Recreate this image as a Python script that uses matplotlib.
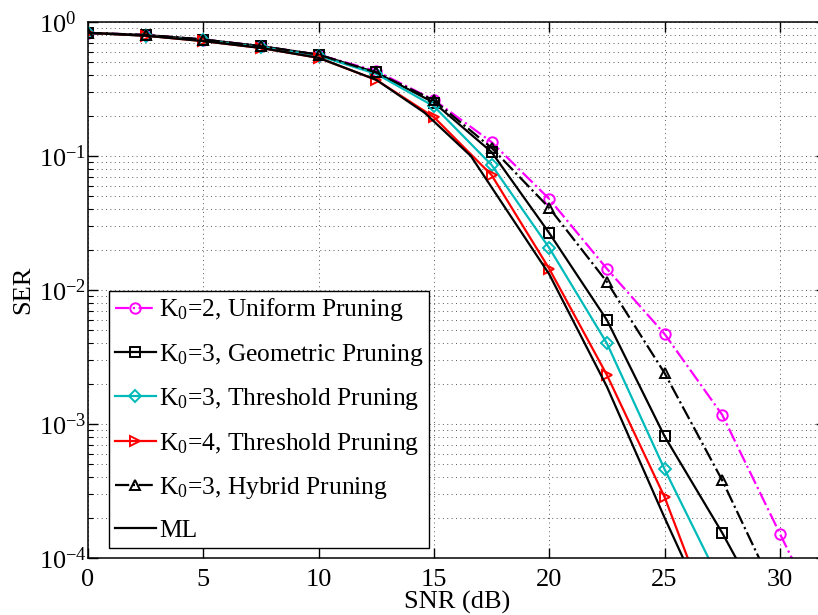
import numpy as np
import matplotlib
matplotlib.use("Agg")
import matplotlib.pyplot as plt
from matplotlib.ticker import LogLocator, LogFormatterSciNotation, NullFormatter, FixedLocator

plt.rcParams.update({
    "font.family": ["Liberation Serif", "DejaVu Serif"],
    "mathtext.fontset": "custom",
    "mathtext.rm": "Liberation Serif",
    "mathtext.it": "Liberation Serif:italic",
    "mathtext.default": "regular",
    "font.size": 19,
})

# SNR grid (dB) shared by the pruning schemes
snr = [0, 2.5, 5, 7.5, 10, 12.5, 15, 17.5, 20, 22.5, 25, 27.5, 30, 32.5]

ser_uniform_k2 = [0.83, 0.80, 0.74, 0.66, 0.57, 0.43, 0.262, 0.127, 0.0478,
                  0.0144, 0.0047, 0.00117, 1.52e-4, 2.0e-5]
ser_geometric_k3 = [0.83, 0.80, 0.74, 0.66, 0.57, 0.42, 0.25, 0.107, 0.0266,
                    0.00597, 8.1e-4, 1.54e-4, 2.5e-5]
ser_threshold_k3 = [0.83, 0.79, 0.73, 0.65, 0.56, 0.41, 0.235, 0.0857, 0.0206,
                    0.0040, 4.6e-4, 6.2e-5]
ser_threshold_k4 = [0.83, 0.79, 0.72, 0.64, 0.54, 0.37, 0.195, 0.072, 0.0144,
                    0.00232, 2.85e-4, 2.1e-5]
ser_hybrid_k3 = [0.83, 0.80, 0.74, 0.66, 0.57, 0.42, 0.26, 0.115, 0.041,
                 0.0115, 0.0024, 3.8e-4, 4.7e-5]

# Maximum-likelihood reference curve
snr_ml = [0, 2.5, 5, 7.5, 10, 12.5, 14.6, 16.6, 20, 22.5, 25, 27.5]
ser_ml = [0.83, 0.79, 0.72, 0.64, 0.54, 0.37, 0.21, 0.10, 0.0131, 0.0019,
          2.0e-4, 2.3e-5]

labels = [
    "K$_0$=2, Uniform Pruning",
    "K$_0$=3, Geometric Pruning",
    "K$_0$=3, Threshold Pruning",
    "K$_0$=4, Threshold Pruning",
    "K$_0$=3, Hybrid Pruning",
    "ML",
]

W, H = 818, 615
fig = plt.figure(figsize=(W / 100, H / 100), dpi=100)
ax = fig.add_axes([88 / W, (H - 558) / H, (826 - 88) / W, (558 - 22) / H])

lw = 1.6
ms = 7.5
mew = 1.4
cyan = "#00BABA"

def series(y):
    return snr[:len(y)], y

ax.plot(*series(ser_uniform_k2), color="#FF00FF", ls="-.", lw=lw, marker="o",
        ms=ms, mfc="none", mew=mew, label=labels[0])
ax.plot(*series(ser_geometric_k3), color="black", ls="-", lw=lw, marker="s",
        ms=ms - 0.5, mfc="none", mew=mew, label=labels[1])
ax.plot(*series(ser_threshold_k3), color=cyan, ls="-", lw=lw, marker="D",
        ms=ms - 1.5, mfc="none", mew=mew, label=labels[2])
ax.plot(*series(ser_threshold_k4), color="#FF0000", ls="-", lw=lw, marker=">",
        ms=ms, mfc="none", mew=mew, label=labels[3])
ax.plot(*series(ser_hybrid_k3), color="black", ls="-.", lw=lw, marker="^",
        ms=ms, mfc="none", mew=mew, label=labels[4])
ax.plot(snr_ml, ser_ml, color="black", ls="-", lw=lw, label=labels[5])

ax.set_yscale("log")
ax.set_xlim(0, 32)
ax.set_ylim(1e-4, 1)

ax.xaxis.set_major_locator(FixedLocator([0, 5, 10, 15, 20, 25, 30]))
ax.yaxis.set_major_locator(LogLocator(base=10, numticks=10))
ax.yaxis.set_major_formatter(LogFormatterSciNotation())
ax.yaxis.set_minor_locator(LogLocator(base=10, subs=np.arange(2, 10), numticks=20))
ax.yaxis.set_minor_formatter(NullFormatter())

ax.tick_params(which="both", direction="in", top=True, right=True)
ax.tick_params(which="major", length=7, width=1.0, labelsize=19)
ax.tick_params(axis="x", which="major", pad=8)
ax.tick_params(axis="y", which="major", pad=35)
ax.tick_params(which="minor", length=3.5, width=0.8)
for lab in ax.get_yticklabels():
    lab.set_horizontalalignment("left")

grid_kw = dict(color="0.35", linestyle=(0, (1, 3.5)), linewidth=0.7)
ax.grid(True, which="major", axis="both", **grid_kw)
ax.grid(True, which="minor", axis="y", **grid_kw)
ax.set_axisbelow(True)

for s in ax.spines.values():
    s.set_linewidth(1.1)

ax.set_xlabel("SNR (dB)", fontsize=19, labelpad=0)
ax.set_ylabel("SER", fontsize=19, labelpad=4)

leg = ax.legend(loc="lower left", bbox_to_anchor=(21 / 738, 10 / 536),
                borderaxespad=0, fancybox=False, framealpha=1,
                edgecolor="black", fontsize=18.4, handlelength=1.6,
                handletextpad=0.15, labelspacing=0.72, borderpad=0.22)
leg.get_frame().set_linewidth(1.0)

fig.savefig("out.png", dpi=100)
